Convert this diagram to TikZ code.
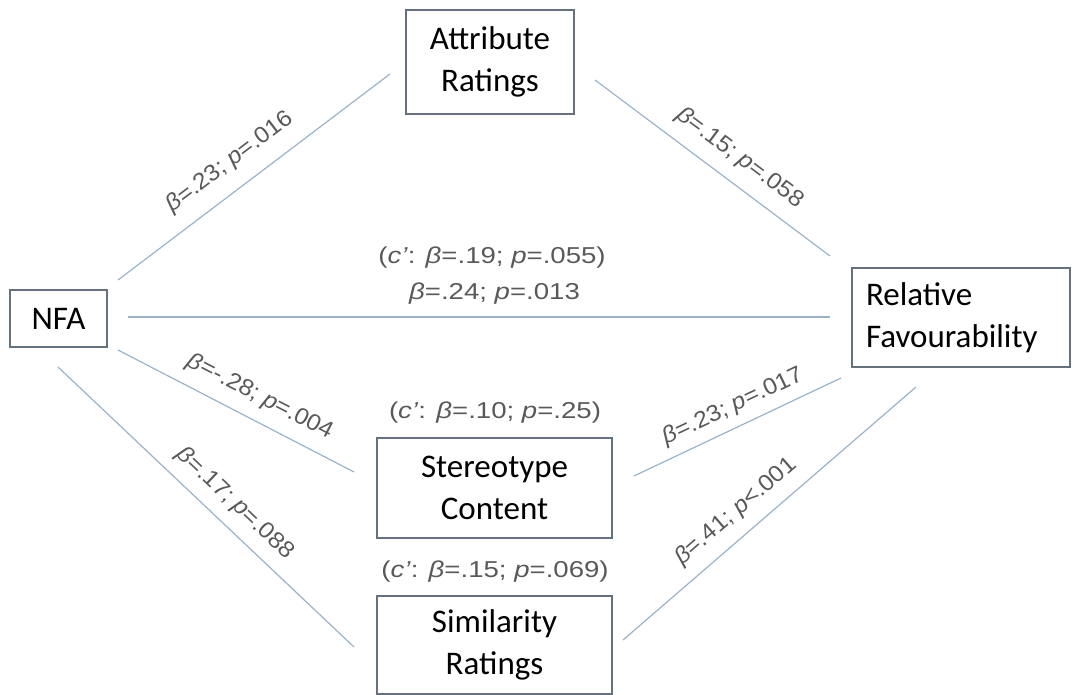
\documentclass[tikz,border=0pt]{standalone}
\usepackage{fontspec}
\setmainfont{Carlito}
\newfontfamily\labhfont[FakeStretch=1.2]{Liberation Sans}
\newfontfamily\labrfont[FakeStretch=1.07]{Liberation Sans}
\definecolor{connc}{HTML}{9AB3C9}
\definecolor{boxline}{HTML}{65717D}
\definecolor{labgray}{HTML}{595959}
\begin{document}
\begin{tikzpicture}[x=1pt,y=-1pt,
  box/.style={draw=boxline, line width=1.2pt, inner sep=0pt, font=\fontsize{33}{42}\selectfont, align=center},
  connector/.style={draw=connc, line width=1.2pt},
  labr/.style={text=labgray, inner sep=0pt, font=\labrfont\fontsize{23}{26}\selectfont},
  labh/.style={text=labgray, inner sep=0pt, font=\labhfont\fontsize{23}{26}\selectfont},
]
\useasboundingbox (0,0) rectangle (1074,695);

% boxes
\node[box, minimum width=168pt, minimum height=104pt] (attr) at (490,62) {Attribute\\Ratings};
\node[box, minimum width=97pt, minimum height=57pt] (nfa) at (58.5,318.5) {NFA};
\node[box, minimum width=218pt, minimum height=99pt, text width=190pt, align=left] (rel) at (961,317.5) {Relative\\Favourability};
\node[box, minimum width=235pt, minimum height=100pt] (ster) at (494.5,488) {Stereotype\\Content};
\node[box, minimum width=235pt, minimum height=98pt] (sim) at (494.5,645) {Similarity\\Ratings};

% connector end points
\coordinate (na1) at (118,280);  \coordinate (na2) at (390,74);
\coordinate (ar1) at (595,80);   \coordinate (ar2) at (830,256);
\coordinate (nr1) at (128,317);  \coordinate (nr2) at (830,317);
\coordinate (ns1) at (118,350);  \coordinate (ns2) at (354,472);
\coordinate (nm1) at (58,367);   \coordinate (nm2) at (354,647);
\coordinate (sr1) at (634,476);  \coordinate (sr2) at (841,378);
\coordinate (mr1) at (623,640);  \coordinate (mr2) at (916,387);

\draw[connector] (na1) -- (na2);
\draw[connector] (ar1) -- (ar2);
\draw[connector] (nr1) -- (nr2);
\draw[connector] (ns1) -- (ns2);
\draw[connector] (nm1) -- (nm2);
\draw[connector] (sr1) -- (sr2);
\draw[connector] (mr1) -- (mr2);

% labels
\node[labr, rotate=37.1] (lna) at (230,162) {\textit{β}=.23; \textit{p}=.016};
\node[labr, rotate=-36.8] (lar) at (740,158) {\textit{β}=.15; \textit{p}=.058};
\node[labh] (lnr1) at (492,258) {(\textit{c’}: \textit{β}=.19; \textit{p}=.055)};
\node[labh] (lnr2) at (494.5,294) {\textit{β}=.24; \textit{p}=.013};
\node[labr, rotate=-27.3] (lns) at (260,397) {\textit{β}=-.28; \textit{p}=.004};
\node[labr, rotate=-43.4] (lnm) at (235,503.5) {\textit{β}=.17; \textit{p}=.088};
\node[labh] (lcs) at (495,413) {(\textit{c’}: \textit{β}=.10; \textit{p}=.25)};
\node[labh] (lcm) at (495,572) {(\textit{c’}: \textit{β}=.15; \textit{p}=.069)};
\node[labr, rotate=25.3] (lsr) at (733,406.5) {\textit{β}=.23; \textit{p}=.017};
\node[labr, rotate=40.8] (lmr) at (736,511.5) {\textit{β}=.41; \textit{p}<.001};
\end{tikzpicture}
\end{document}
